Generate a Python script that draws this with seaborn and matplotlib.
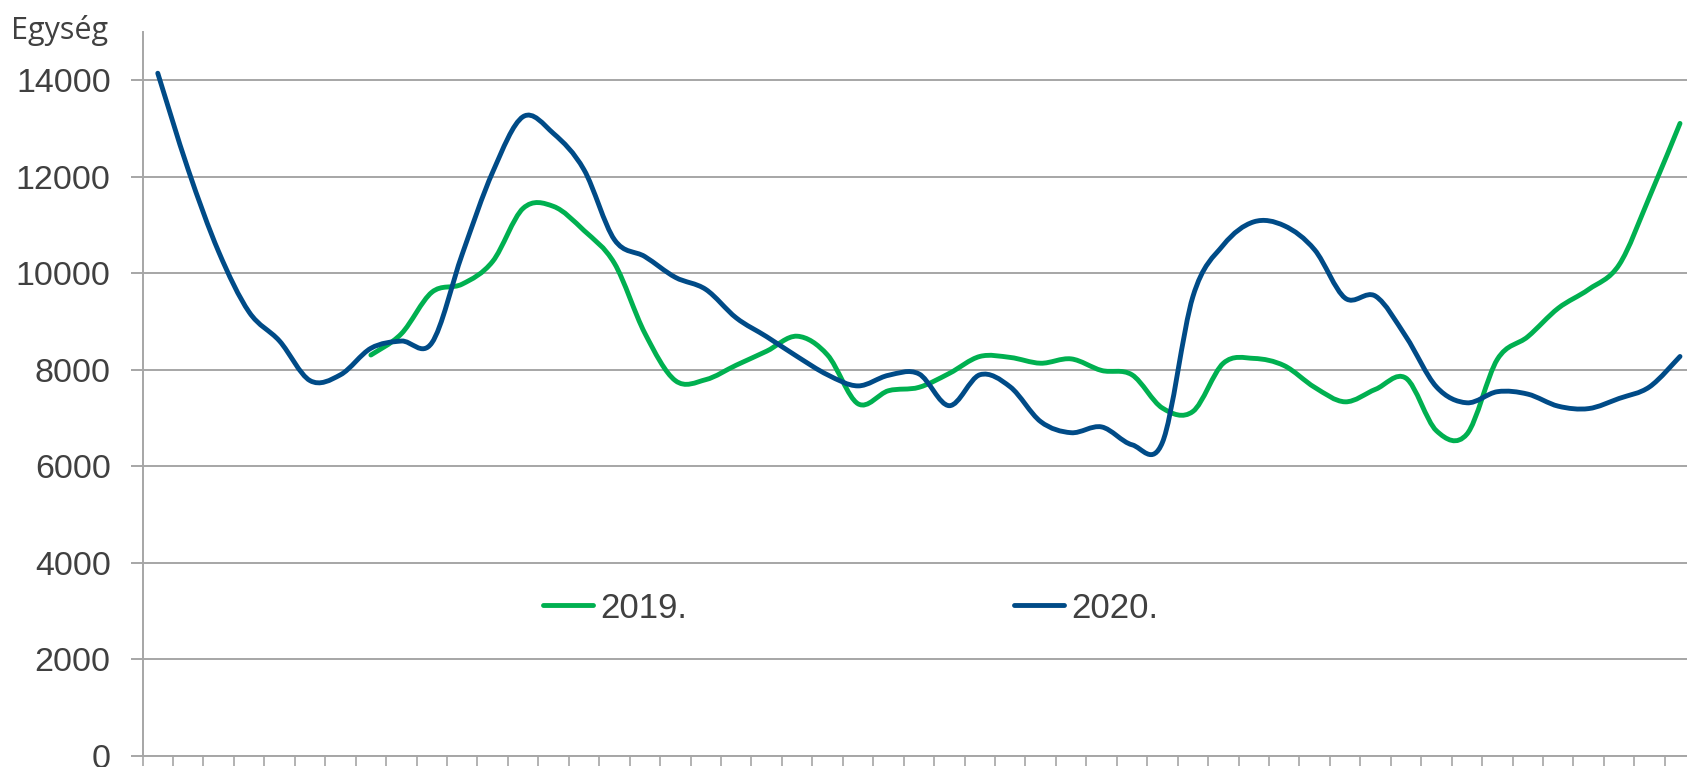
import numpy as np
import matplotlib
matplotlib.use('Agg')
import matplotlib.pyplot as plt
from matplotlib.path import Path
from matplotlib.patches import PathPatch
from matplotlib.lines import Line2D
import seaborn as sns

# weekly values (51 weeks shown)
weeks = np.arange(51)

values_2020 = [14150, 12150, 10450, 9200, 8600, 7780, 7900, 8450, 8600, 8560,
               10400, 12100, 13250, 12900, 12150, 10700, 10350, 9920, 9670, 9080,
               8690, 8280, 7900, 7670, 7890, 7920, 7260, 7900, 7650, 6930,
               6700, 6820, 6450, 6500, 9520, 10590, 11070, 10990, 10490, 9490,
               9530, 8690, 7650, 7320, 7550, 7500, 7250, 7200, 7410, 7650,
               8280]

values_2019 = [np.nan] * 7 + [8310, 8750, 9610,
               9780, 10250, 11350, 11390, 10890, 10210, 8760, 7780, 7800, 8100,
               8390, 8700, 8310, 7300, 7570, 7640, 7930, 8280, 8260, 8140,
               8230, 7990, 7900, 7210, 7140, 8140, 8240, 8090, 7640, 7340,
               7600, 7830, 6740, 6670, 8220, 8690, 9280, 9670, 10180, 11590,
               13110]

series = ['2019.', '2020.']
colors = {'2019.': '#00B050', '2020.': '#004B87'}
y_ticks = [0, 2000, 4000, 6000, 8000, 10000, 12000, 14000]
y_label = 'Egység'

sns.set_style('white')
plt.rcParams['font.family'] = ['Liberation Sans', 'DejaVu Sans']
text_col = '#404040'
grid_col = '#A6A6A6'


def smooth_path(x, y):
    # Excel-style smoothed line: cubic bezier through every point
    x = np.asarray(x, float)
    y = np.asarray(y, float)
    ok = ~np.isnan(y)
    x, y = x[ok], y[ok]
    pts = np.column_stack([x, y])
    n = len(pts)
    verts = [pts[0]]
    codes = [Path.MOVETO]
    for i in range(n - 1):
        p0 = pts[i - 1] if i > 0 else pts[i]
        p1 = pts[i]
        p2 = pts[i + 1]
        p3 = pts[i + 2] if i + 2 < n else pts[i + 1]
        c1 = p1 + (p2 - p0) / 6.0
        c2 = p2 - (p3 - p1) / 6.0
        verts += [c1, c2, p2]
        codes += [Path.CURVE4] * 3
    return Path(verts, codes)


fig = plt.figure(figsize=(16.87, 7.67), dpi=100)
ax = fig.add_axes([0.0845, 0.01434, 1 - 0.0845, 0.958 - 0.01434])

for name, vals in zip(series, [values_2019, values_2020]):
    patch = PathPatch(smooth_path(weeks, vals), facecolor='none',
                      edgecolor=colors[name], lw=3.5, capstyle='round',
                      joinstyle='round', zorder=3)
    ax.add_patch(patch)

ax.set_xlim(-0.5, 50.23)
ax.set_ylim(0, 15000)
ax.set_yticks(y_ticks)
ax.set_yticklabels([str(v) for v in y_ticks])
ax.set_xticks(np.arange(51) - 0.5)
ax.set_xticklabels([])

ax.yaxis.grid(True, color=grid_col, lw=1.4)
ax.set_axisbelow(True)
sns.despine(ax=ax, top=True, right=True)
for s in ['left', 'bottom']:
    ax.spines[s].set_color(grid_col)
    ax.spines[s].set_linewidth(1.4)
ax.spines['bottom'].set_zorder(4)

ax.tick_params(axis='y', length=8.4, width=1.4, color=grid_col, pad=14.5,
               labelsize=24.5, labelcolor=text_col, left=True)
ax.tick_params(axis='x', length=7.5, width=1.2, color=grid_col,
               bottom=True)

fig.text(11 / 1687, 1 - 39 / 767, y_label, fontsize=22, color=text_col,
         family=['Open Sans', 'DejaVu Sans'], va='baseline', ha='left')

handles = [Line2D([], [], color=colors[n], lw=3.5, solid_capstyle='round')
           for n in series]
leg = ax.legend(handles, series, loc='center left',
                bbox_to_anchor=((543 - 142.6) / (1687 - 142.6), (756 - 608) / (756 - 32)),
                ncol=2, frameon=False, fontsize=25, handlelength=1.45,
                handletextpad=0.2, columnspacing=9.4, borderpad=0,
                borderaxespad=0)
for t in leg.get_texts():
    t.set_color(text_col)

fig.savefig('out.png', dpi=100)
